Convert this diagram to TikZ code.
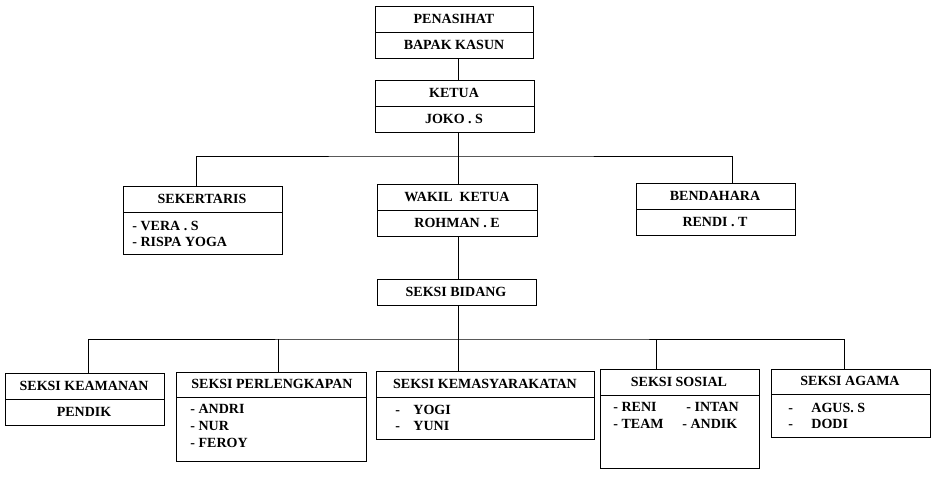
\documentclass[tikz,border=0pt]{standalone}
\usepackage{fontspec}
\setmainfont{Liberation Serif}
\begin{document}
\begin{tikzpicture}[x=1pt,y=-1pt,line width=0.9pt,
  box/.style={draw,anchor=north west,inner sep=0pt,outer sep=0pt},
  txt/.style={font=\fontsize{14}{16}\selectfont\bfseries,inner sep=0pt,text height=10.5pt,text depth=1.5pt},
  ltxt/.style={txt,anchor=west}]
\useasboundingbox (0,0) rectangle (941,477);
% boxes
\node[box,minimum width=158pt,minimum height=52pt] (pen) at (375,6) {};
\draw (375,32) -- (533,32);
\node[txt] (penT) at (454,19) {PENASIHAT};
\node[txt] (penN) at (454,45) {BAPAK KASUN};

\node[box,minimum width=159pt,minimum height=52pt] (ket) at (375,80) {};
\draw (375,106) -- (534,106);
\node[txt] (ketT) at (454,93) {KETUA};
\node[txt] (ketN) at (454,119) {JOKO . S};

\node[box,minimum width=159pt,minimum height=68pt] (sek) at (123,186) {};
\draw (123,212) -- (282,212);
\node[txt] (sekT) at (202,199) {SEKERTARIS};
\node[ltxt] (sek1) at (132,226) {- VERA . S};
\node[ltxt] (sek2) at (132,242) {- RISPA YOGA};

\node[box,minimum width=160pt,minimum height=52pt] (wak) at (377,184) {};
\draw (377,210) -- (537,210);
\node[txt] (wakT) at (457,197) {WAKIL\ \ KETUA};
\node[txt] (wakN) at (457,223) {ROHMAN . E};

\node[box,minimum width=159pt,minimum height=52pt] (ben) at (636,183) {};
\draw (636,209) -- (795,209);
\node[txt] (benT) at (715,196) {BENDAHARA};
\node[txt] (benN) at (715,222) {RENDI . T};

\node[box,minimum width=159pt,minimum height=26pt] (bid) at (377,279) {};
\node[txt] (bidT) at (456,292) {SEKSI BIDANG};

\node[box,minimum width=159pt,minimum height=52pt] (kea) at (5,373) {};
\draw (5,399) -- (164,399);
\node[txt] (keaT) at (84,386) {SEKSI KEAMANAN};
\node[txt] (keaN) at (84,412) {PENDIK};

\node[box,minimum width=190pt,minimum height=89pt] (per) at (176,372) {};
\draw (176,397) -- (366,397);
\node[txt] (perT) at (272,384) {SEKSI PERLENGKAPAN};
\node[ltxt] (per1) at (190,409) {- ANDRI};
\node[ltxt] (per2) at (190,426) {- NUR};
\node[ltxt] (per3) at (190,443) {- FEROY};

\node[box,minimum width=218pt,minimum height=68pt] (kem) at (376,371) {};
\draw (376,397) -- (594,397);
\node[txt] (kemT) at (485,384) {SEKSI KEMASYARAKATAN};
\node[ltxt] (kemd1) at (395,410) {-};
\node[ltxt] (kem1) at (413,410) {YOGI};
\node[ltxt] (kemd2) at (395,426) {-};
\node[ltxt] (kem2) at (413,426) {YUNI};

\node[box,minimum width=159pt,minimum height=99pt] (sos) at (600,369) {};
\draw (600,395) -- (759,395);
\node[txt] (sosT) at (679,382) {SEKSI SOSIAL};
\node[ltxt] (sos1) at (613,407) {- RENI};
\node[ltxt] (sos2) at (686,407) {- INTAN};
\node[ltxt] (sos3) at (613,424) {- TEAM};
\node[ltxt] (sos4) at (682,424) {- ANDIK};

\node[box,minimum width=159pt,minimum height=68pt] (aga) at (771,369) {};
\draw (771,394) -- (930,394);
\node[txt] (agaT) at (850,381) {SEKSI AGAMA};
\node[ltxt] (agad1) at (788,408) {-};
\node[ltxt] (aga1) at (811,408) {AGUS. S};
\node[ltxt] (agad2) at (788,424) {-};
\node[ltxt] (aga2) at (811,424) {DODI};

% connectors
\coordinate (j1) at (458,156);
\coordinate (j2) at (458,339);
\draw (458,0 |- pen.south) -- (458,0 |- ket.north);
\draw (458,0 |- ket.south) -- (j1);
\draw (196,0 |- sek.north) |- (j1) -| (732,0 |- ben.north);
\draw (j1) -- (458,0 |- wak.north);
\draw (458,0 |- wak.south) -- (458,0 |- bid.north);
\draw (458,0 |- bid.south) -- (j2);
\draw (88,0 |- kea.north) |- (j2) -| (844,0 |- aga.north);
\draw (278,339) -- (278,0 |- per.north);
\draw (j2) -- (458,0 |- kem.north);
\draw (656,339) -- (656,0 |- sos.north);
\end{tikzpicture}
\end{document}
